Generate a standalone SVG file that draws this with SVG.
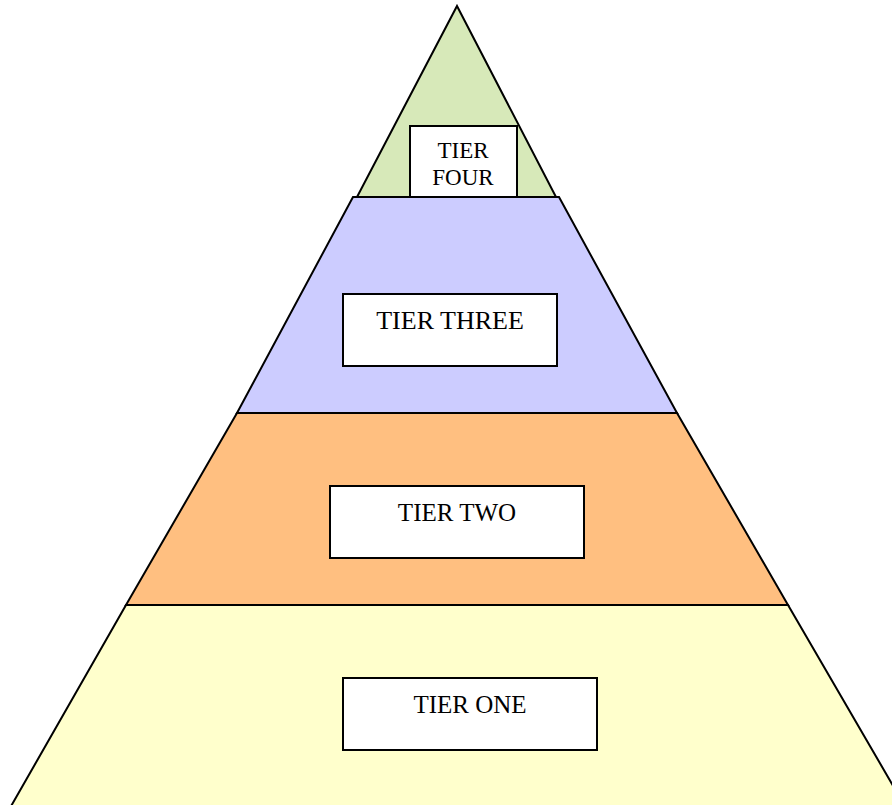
<svg xmlns="http://www.w3.org/2000/svg" width="892" height="805" viewBox="0 0 892 805">
<style>
.tier{stroke:#000;stroke-width:2;stroke-linejoin:miter}
.box{fill:#fff;stroke:#000;stroke-width:2}
.lbl{font-family:"Liberation Serif","Times New Roman",serif;fill:#000;text-anchor:middle}
</style>
<rect width="892" height="805" fill="#fff"/>
<g id="tier-one">
<polygon class="tier" fill="#FFFFCC" points="126,605 788,605 906,808 10,808"/>
<rect class="box" x="343" y="678" width="254" height="72"/>
<text class="lbl" x="470" y="713" font-size="25">TIER ONE</text>
</g>
<g id="tier-two">
<polygon class="tier" fill="#FFBF80" points="237,413 677,413 788,605 126,605"/>
<rect class="box" x="330" y="486" width="254" height="72"/>
<text class="lbl" x="457" y="521" font-size="25">TIER TWO</text>
</g>
<g id="tier-four">
<polygon class="tier" fill="#D7E9B9" points="457,6 556,197 357,197"/>
</g>
<g id="tier-three">
<polygon class="tier" fill="#CCCCFF" points="353,197 559,197 677,413 237,413"/>
<rect class="box" x="343" y="294" width="214" height="72"/>
<text class="lbl" x="450" y="329" font-size="26">TIER THREE</text>
</g>
<g id="tier-four-label">
<rect class="box" x="410" y="126" width="107" height="71"/>
<text class="lbl" x="463" y="158" font-size="23">TIER</text>
<text class="lbl" x="463" y="185" font-size="23">FOUR</text>
</g>
</svg>
